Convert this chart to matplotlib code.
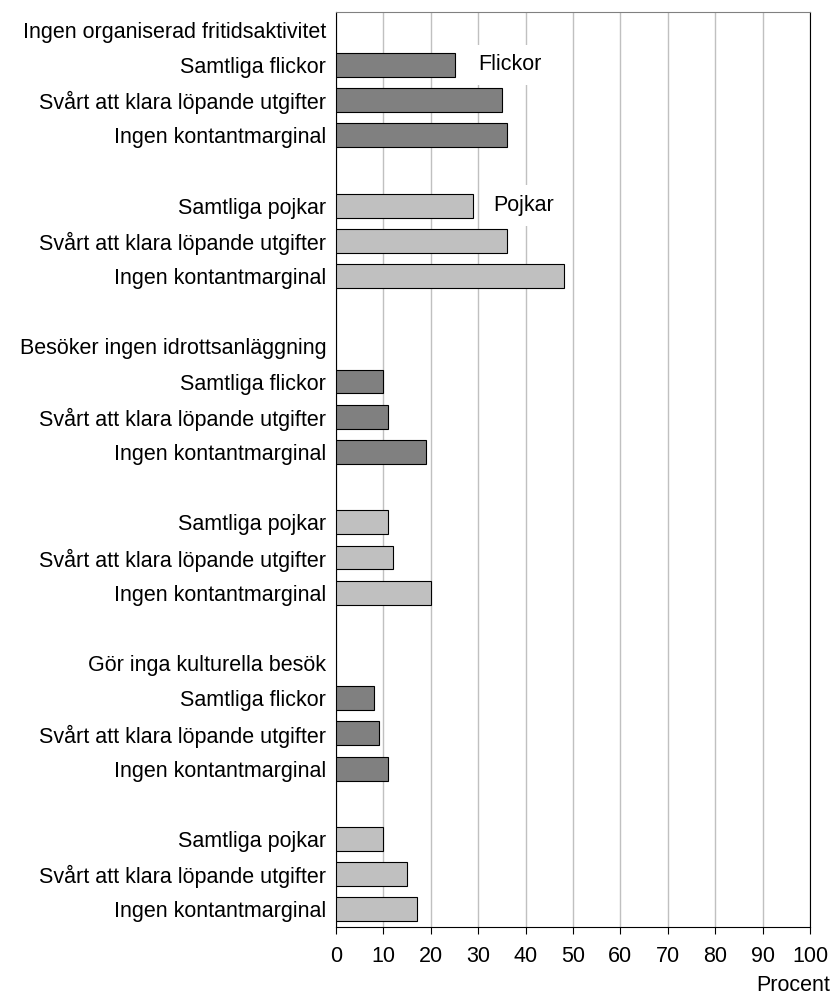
import numpy as np
import matplotlib.pyplot as plt

plt.rcParams['font.family'] = ['Liberation Sans', 'DejaVu Sans']

labels = [
    "Ingen organiserad fritidsaktivitet",
    "Samtliga flickor", "Svårt att klara löpande utgifter", "Ingen kontantmarginal",
    "",
    "Samtliga pojkar", "Svårt att klara löpande utgifter", "Ingen kontantmarginal",
    "",
    "Besöker ingen idrottsanläggning",
    "Samtliga flickor", "Svårt att klara löpande utgifter", "Ingen kontantmarginal",
    "",
    "Samtliga pojkar", "Svårt att klara löpande utgifter", "Ingen kontantmarginal",
    "",
    "Gör inga kulturella besök",
    "Samtliga flickor", "Svårt att klara löpande utgifter", "Ingen kontantmarginal",
    "",
    "Samtliga pojkar", "Svårt att klara löpande utgifter", "Ingen kontantmarginal",
]

# None = no bar (header or blank row)
flickor = [None, 25, 35, 36, None, None, None, None, None,
           None, 10, 11, 19, None, None, None, None, None,
           None, 8, 9, 11, None, None, None, None]
pojkar = [None, None, None, None, None, 29, 36, 48, None,
          None, None, None, None, None, 11, 12, 20, None,
          None, None, None, None, None, 10, 15, 17]

fs = 15.5

fig = plt.figure(figsize=(8.31, 9.96), dpi=100)
ax = fig.add_axes([336 / 831, 1 - 927 / 996, (810 - 336) / 831, (927 - 12) / 996])

ypos = np.arange(len(labels))
for i in range(len(labels)):
    if flickor[i] is not None:
        ax.barh(ypos[i], flickor[i], height=0.68, color="#808080", edgecolor="black", linewidth=0.8, zorder=3)
    if pojkar[i] is not None:
        ax.barh(ypos[i], pojkar[i], height=0.68, color="#c0c0c0", edgecolor="black", linewidth=0.8, zorder=3)

ax.set_ylim(len(labels) - 0.5, -0.5)
ax.set_xlim(0, 100)
ax.set_yticks(ypos)
ax.set_yticklabels(labels, fontsize=fs)
ax.tick_params(axis="y", length=0, pad=7)
ax.set_xticks(np.arange(0, 101, 10))
ax.tick_params(axis="x", labelsize=fs, length=5, direction="out", pad=9)
ax.xaxis.grid(True, color="#c0c0c0", linewidth=1, zorder=0)
ax.set_axisbelow(True)

for side in ["left", "right", "bottom"]:
    ax.spines[side].set_color("black")
ax.spines["top"].set_color("#808080")

box = dict(facecolor="white", edgecolor="none", pad=7)
ax.text(36.7, 1, "Flickor", fontsize=fs, ha="center", va="center", bbox=box, zorder=4)
ax.text(39.5, 5, "Pojkar", fontsize=fs, ha="center", va="center", bbox=box, zorder=4)

fig.text(830 / 831, 1 - 985 / 996, "Procent", fontsize=fs, ha="right", va="center")

fig.savefig("out.png", dpi=100)
